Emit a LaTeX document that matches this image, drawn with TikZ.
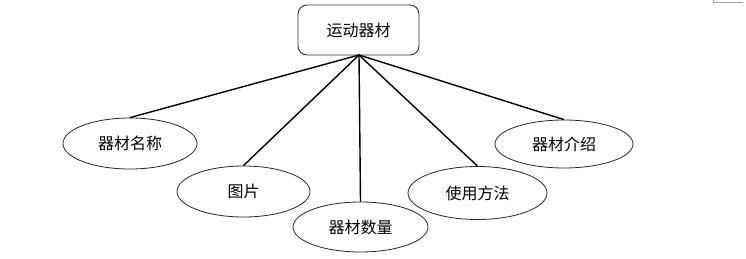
\documentclass[tikz,border=0pt]{standalone}
\usepackage{fontspec}
\newfontfamily\cjk{Noto Sans CJK SC}
\usetikzlibrary{shapes.geometric}
\tikzset{
  topbox/.style={draw=black!80, line width=0.9pt, rounded corners=9pt, minimum width=121pt, minimum height=50pt, inner sep=0pt, font=\cjk\fontsize{16}{18}\selectfont},
  leaf/.style={ellipse, draw=black!85, line width=0.8pt, inner sep=0pt, font=\cjk\fontsize{16}{18}\selectfont},
  link/.style={line width=1.4pt, black},
  cornermark/.style={draw=black!35, line width=0.8pt}
}
\begin{document}
\begin{tikzpicture}[x=1pt,y=-1pt]
\useasboundingbox (0,0) rectangle (746,259);
\node[topbox] (root) at (358.5,30) {运动器材};
\node[leaf, minimum width=134pt, minimum height=51pt] (mc) at (130,143.5) {器材名称};
\node[leaf, minimum width=133pt, minimum height=51pt] (tp) at (243.5,191.5) {图片};
\node[leaf, minimum width=135pt, minimum height=50pt] (sl) at (360.5,227) {器材数量};
\node[leaf, minimum width=139pt, minimum height=53pt] (ff) at (477.5,193) {使用方法};
\node[leaf, minimum width=138pt, minimum height=48pt] (js) at (564,144) {器材介绍};
\coordinate (hub) at (359,55);
\draw[link] (hub) -- (mc.north);
\draw[link] (hub) -- (tp.north);
\draw[link] (hub) -- (sl.north);
\draw[link] (hub) -- (ff.north);
\draw[link] (hub) -- (js.north);
\coordinate (c1) at (713,0);
\coordinate (c2) at (713,2.5);
\coordinate (c3) at (743,2.5);
\draw[cornermark] (c1) -- (c2) -- (c3);
\end{tikzpicture}
\end{document}
